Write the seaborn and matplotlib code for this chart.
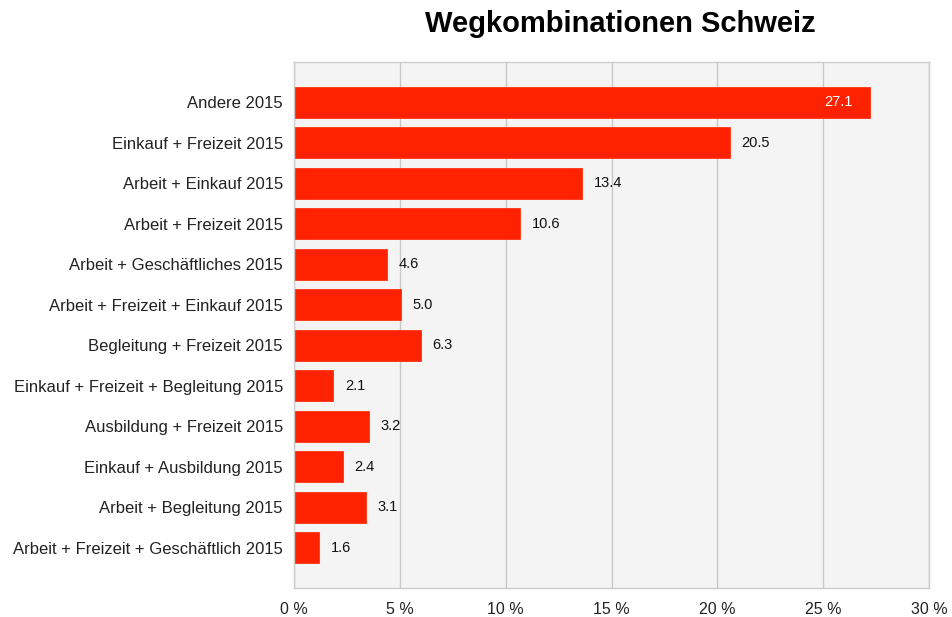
import matplotlib
matplotlib.use("Agg")
import matplotlib.pyplot as plt
import seaborn as sns
import pandas as pd

categories = [
    "Andere 2015",
    "Einkauf + Freizeit 2015",
    "Arbeit + Einkauf 2015",
    "Arbeit + Freizeit 2015",
    "Arbeit + Geschäftliches 2015",
    "Arbeit + Freizeit + Einkauf 2015",
    "Begleitung + Freizeit 2015",
    "Einkauf + Freizeit + Begleitung 2015",
    "Ausbildung + Freizeit 2015",
    "Einkauf + Ausbildung 2015",
    "Arbeit + Begleitung 2015",
    "Arbeit + Freizeit + Geschäftlich 2015",
]
# bar lengths as drawn in the picture (percent)
bar_values = [27.2, 20.6, 13.6, 10.7, 4.4, 5.05, 6.0, 1.85, 3.55, 2.3, 3.4, 1.2]
# value labels as printed
value_labels = ["27.1", "20.5", "13.4", "10.6", "4.6", "5.0", "6.3", "2.1", "3.2", "2.4", "3.1", "1.6"]
x_ticks = [0, 5, 10, 15, 20, 25, 30]
x_tick_labels = ["0 %", "5 %", "10 %", "15 %", "20 %", "25 %", "30 %"]
title = "Wegkombinationen Schweiz"

sns.set_theme(style="whitegrid")
plt.rcParams["font.family"] = ["Liberation Sans", "DejaVu Sans"]

df = pd.DataFrame({"cat": categories, "val": bar_values})

fig = plt.figure(figsize=(9.52, 6.17), dpi=100)
ax = fig.add_axes([294 / 952, 1 - 588 / 617, (929 - 294) / 952, (588 - 62) / 617])

sns.barplot(data=df, x="val", y="cat", orient="h", color="#ff2200", saturation=1,
            width=0.77, ax=ax, edgecolor="#ff2200", linewidth=0.5)

ax.set_facecolor("#f4f4f4")
ax.set_xlim(0, 30)
ax.set_ylim(11.99, -0.99)
ax.set_xticks(x_ticks)
ax.set_xticklabels(x_tick_labels, fontsize=11.5, color="#222222")
ax.tick_params(axis="y", labelsize=12, labelcolor="#222222", length=0, pad=8)
ax.tick_params(axis="x", length=0, pad=10)
ax.grid(axis="x", color="#c8c8c8", linewidth=1)
ax.grid(axis="y", visible=False)
ax.set_axisbelow(True)
ax.set_xlabel("")
ax.set_ylabel("")
for s in ax.spines.values():
    s.set_color("#cccccc")
    s.set_linewidth(1)

for i, (v, lab) in enumerate(zip(bar_values, value_labels)):
    if v > 25:
        ax.text(v - 0.8, i, lab, ha="right", va="center", fontsize=10.5, color="white")
    else:
        ax.text(v + 0.55, i, lab, ha="left", va="center", fontsize=10.5, color="#111111")

fig.text(620 / 952, 1 - 24 / 617, title, ha="center", va="center",
         fontsize=21, fontweight="bold", color="black")

fig.savefig("out.png", dpi=100, facecolor="white")
